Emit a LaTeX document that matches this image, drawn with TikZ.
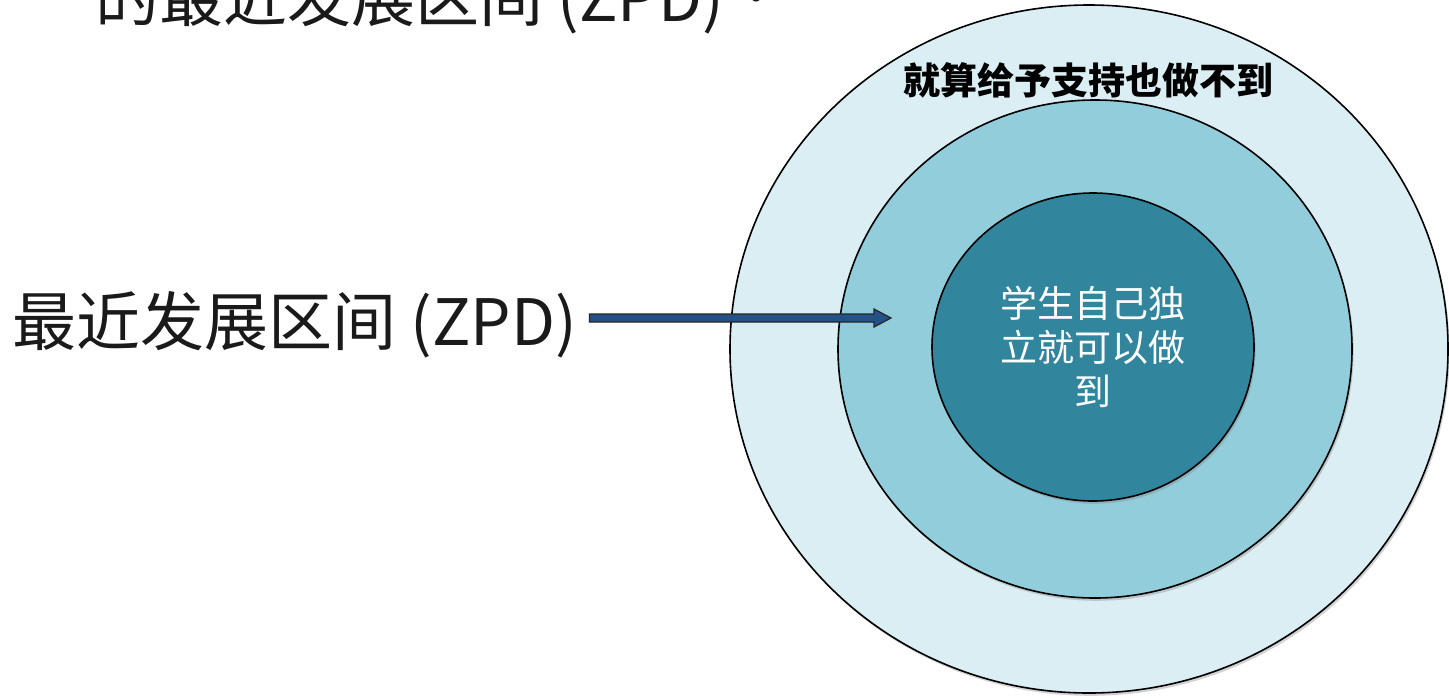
\documentclass[tikz,border=0pt]{standalone}
\usepackage{fontspec}
\newfontfamily\cjk{Noto Sans CJK SC}
\newfontfamily\cjkjp{Noto Sans CJK JP}
\usetikzlibrary{shapes.geometric,shadows,calc}
\definecolor{outerfill}{HTML}{DAEEF3}
\definecolor{midfill}{HTML}{92CDDC}
\definecolor{innerfill}{HTML}{31859C}
\definecolor{arrowfill}{HTML}{255189}
\definecolor{labeltext}{HTML}{1A1A1A}
\tikzset{
  ring/.style={ellipse, draw=black, line width=0.8pt, inner sep=0pt,
    drop shadow={opacity=0.35, shadow xshift=0.8pt, shadow yshift=-1.4pt}},
  biglabel/.style={font=\cjk\fontsize{32pt}{38pt}\selectfont, text=labeltext, inner sep=0pt},
  arrowshape/.style={draw=black!85, line width=0.6pt, fill=arrowfill}
}
\begin{document}
\begin{tikzpicture}[x=0.5pt,y=-0.5pt]
\useasboundingbox (0,0) rectangle (1449,697);
\clip (0,0) rectangle (1449,697);
\fill[white] (0,0) rectangle (1449,697);
% rings
\node[ring, fill=outerfill, minimum width=359pt, minimum height=344pt] (outer) at (1089,349) {};
\node[ring, fill=midfill, minimum width=257pt, minimum height=249pt] (mid) at (1095,349) {};
\node[ring, fill=innerfill, minimum width=161pt, minimum height=154pt,
  font=\cjk\fontsize{18.5pt}{22pt}\selectfont, text=white, align=center] (inner) at (1093,347)
  {学生自己独\\立就可以做\\到};
% outer label
\node[font=\cjk\bfseries\fontsize{18.5pt}{22pt}\selectfont, text=black, inner sep=0pt] (outerlabel) at (1088,80) {就算给予支持也做不到};
% top partial text
\node[biglabel, anchor=base west] (toptext) at (95,21) {的最近发展区间 (ZPD)\raisebox{8pt}{\cjkjp ：}};
% left label
\node[biglabel, anchor=base west] (zpd) at (12,345) {最近发展区间 (ZPD)};
% arrow
\coordinate (as) at ($(zpd.east)+(12,0)$);
\coordinate (ae) at (891,318);
\path[arrowshape] let \p1=(as), \p2=(ae) in
  (\x1,\y2+2pt) -- (\x2-8.5pt,\y2+2pt) -- (\x2-8.5pt,\y2+4.5pt) -- (ae)
  -- (\x2-8.5pt,\y2-4.5pt) -- (\x2-8.5pt,\y2-2pt) -- (\x1,\y2-2pt) -- cycle;
\end{tikzpicture}
\end{document}
